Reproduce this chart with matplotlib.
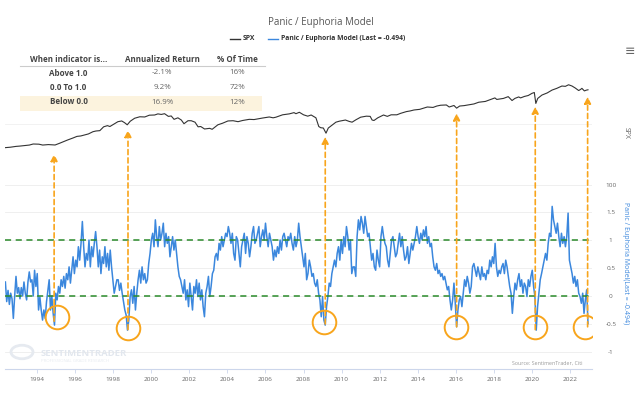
import numpy as np
import matplotlib
matplotlib.use('Agg')
import matplotlib.pyplot as plt
from matplotlib.patches import Rectangle

plt.rcParams['font.family'] = ['Open Sans', 'DejaVu Sans']

# DATA
# panic / euphoria model, evenly spaced samples from mid 1992 to end of 2022
panic_start, panic_end = 1992.34, 2022.94
panic = [
    0.25, -0.10, 0.10, -0.15, 0.05, -0.05, -0.40, 0.00, 0.35, 0.05, 0.15, -0.05, 0.15, 0.00, 0.25, 0.05, -0.07,
    0.25, 0.43, 0.25, 0.29, 0.00, 0.46, 0.17, 0.40, -0.25, -0.02, -0.25, -0.43, -0.25, -0.40, -0.10, 0.10,
    0.29, -0.25, 0.00, -0.31, -0.52, 0.05, -0.07, 0.17, 0.05, 0.29, 0.17, 0.35, 0.14, 0.40, 0.29, 0.52, 0.23,
    0.46, 0.70, 0.40, 0.64, 0.52, 0.88, 0.64, 0.94, 1.33, 0.88, 0.52, 0.76, 0.64, 1.00, 0.52, 0.88, 0.70,
    0.94, 1.15, 0.88, 0.52, 0.82, 0.40, 0.70, 0.58, 0.88, 0.52, 0.76, 0.46, 0.82, 0.52, 0.29, 0.05, 0.17, 0.29,
    # 1998
    0.29, 0.10, 0.23, 0.05, -0.10, -0.25, -0.34, -0.61, -0.43, -0.01, 0.11, -0.13, 0.17, -0.25, 0.05, 0.29,
    0.46, 0.23, 0.52, 0.29, 0.40, 0.23, 0.29, 0.58, 0.76, 1.00, 1.12, 0.88, 1.36, 1.06, 0.88, 1.24, 1.00,
    1.12, 1.30, 0.88, 1.12, 0.94, 1.06, 0.70, 0.88, 1.06, 0.82, 1.00, 0.76, 0.52, 0.35, 0.29, 0.17, 0.05,
    0.29, -0.07, 0.11, -0.19, 0.23, -0.01, -0.25, 0.17, 0.05, 0.29, -0.01, 0.23, -0.07, 0.11, -0.19, -0.37,
    0.05, 0.17, 0.35, -0.01, 0.17, 0.40, 0.46, 0.70, 0.76, 0.64, 0.94, 0.82, 1.06, 0.88, 1.00, 1.12, 1.06,
    1.24, 1.12, 0.94, 1.12, 0.76, 0.64,
    # 2004
    1.06, 1.00, 0.76, 0.52, 0.88, 1.00, 1.12, 0.76, 1.06, 0.94, 0.70, 0.88, 1.12, 1.24, 0.94, 1.00, 1.12,
    1.24, 0.88, 1.06, 1.18, 1.00, 1.30, 1.06, 0.88, 1.12, 1.00, 0.88, 0.64, 0.82, 0.70, 0.88, 0.76, 1.00,
    0.82, 1.06, 1.12, 1.00, 0.88, 1.06, 1.00, 1.12, 0.94, 0.82, 1.06, 0.88, 1.00, 1.30, 1.06, 0.88, 0.70,
    0.52, 0.76, 0.29, 0.40, 0.64, 0.52, 0.35, 0.40, 0.23, 0.17, 0.29, 0.05, -0.07, -0.37, -0.01, -0.43,
    -0.52, -0.19, -0.01, 0.23, 0.17, 0.40, 0.52, 0.64, 0.52, 0.76, 0.88, 0.64, 1.00, 0.76, 1.06, 0.88, 1.24,
    1.06, 0.82, 1.00, 0.40, 0.52,
    # 2010
    0.52, 0.35, 1.06, 1.36, 1.18, 1.42, 1.30, 1.12, 1.42, 1.24, 1.06, 1.12, 0.88, 0.64, 0.76, 0.52, 0.46,
    0.82, 0.64, 0.52, 1.06, 1.24, 1.06, 0.94, 0.88, 0.64, 0.52, 0.76, 1.00, 1.06, 0.88, 0.70, 0.76, 0.94,
    1.12, 0.88, 1.06, 0.82, 0.64, 0.70, 0.88, 0.58, 0.76, 0.94, 0.82, 0.94, 1.06, 1.24, 1.06, 0.94, 1.12,
    1.00, 1.18, 1.06, 1.24, 0.94, 1.06, 0.88, 0.94, 0.70, 0.52, 0.46, 0.58, 0.40, 0.46, 0.35, 0.40, 0.29,
    0.35, 0.23, 0.11, 0.17, -0.07, -0.25, -0.07, 0.23, -0.13, -0.55, -0.25, -0.07, -0.01, -0.19, 0.05, 0.29,
    0.17, 0.35, 0.23, 0.05, 0.17,
    # 2016
    0.52, 0.58, 0.46, 0.35, 0.52, 0.40, 0.29, 0.52, 0.35, 0.40, 0.29, 0.46, 0.40, 0.64, 0.52, 0.70, 0.58,
    0.94, 0.52, 0.35, 0.46, 0.40, 0.52, 0.58, 0.40, 0.64, 0.52, 0.35, 0.17, 0.05, -0.31, -0.01, 0.23, 0.11,
    0.29, 0.40, 0.17, 0.29, 0.05, 0.23, 0.17, -0.01, 0.29, 0.17, 0.35, 0.46, 0.17, -0.01, -0.61, -0.19,
    0.05, 0.29, 0.40, 0.52, 0.64, 0.76, 0.64, 0.94, 1.12, 1.06, 1.60, 1.36, 1.24, 1.12, 1.30, 1.06, 0.88,
    1.12, 0.94, 1.06, 0.88, 1.06, 1.48, 0.64, 0.52, 0.40, 0.23, 0.35, 0.17, 0.29, 0.05, -0.01, -0.13, 0.05,
    -0.31, -0.07, 0.11, -0.494,
]

spx_years = [
    1992.32, 1992.6, 1992.9, 1993.1, 1993.4, 1993.6, 1993.8, 1994.1, 1994.3, 1994.6, 1994.8, 1994.95,
    1995.2, 1995.4, 1995.6, 1995.9, 1996.1, 1996.3, 1996.5, 1996.7, 1996.94, 1997.1, 1997.3, 1997.5,
    1997.7, 1997.83, 1998.0, 1998.25, 1998.45, 1998.6, 1998.74, 1998.9, 1999.13, 1999.4, 1999.66, 1999.9,
    2000.18, 2000.35, 2000.53, 2000.7, 2000.9, 2001.05, 2001.2, 2001.4, 2001.58, 2001.72, 2001.93, 2002.1,
    2002.3, 2002.46, 2002.6, 2002.8, 2003.07, 2003.2, 2003.5, 2003.75, 2004.03, 2004.3, 2004.56, 2004.8,
    2005.15, 2005.4, 2005.85, 2006.2, 2006.4, 2006.55, 2006.9, 2007.25, 2007.5, 2007.6, 2007.78, 2008.0,
    2008.22, 2008.4, 2008.65, 2008.8, 2008.9, 2009.04, 2009.18, 2009.3, 2009.44, 2009.7, 2009.88, 2010.2,
    2010.4, 2010.55, 2010.75, 2011.0, 2011.3, 2011.5, 2011.6, 2011.7, 2011.9, 2012.2, 2012.4, 2012.6,
    2012.9, 2013.1, 2013.4, 2013.6, 2013.8, 2014.1, 2014.3, 2014.5, 2014.8, 2015.0, 2015.2, 2015.5,
    2015.65, 2015.9, 2016.04, 2016.2, 2016.43, 2016.7, 2016.95, 2017.2, 2017.55, 2017.9, 2018.05, 2018.15,
    2018.5, 2018.75, 2018.95, 2019.1, 2019.3, 2019.4, 2019.6, 2019.8, 2020.0, 2020.12, 2020.2, 2020.3,
    2020.52, 2020.8, 2021.05, 2021.3, 2021.57, 2021.75, 2021.92, 2022.1, 2022.27, 2022.45, 2022.55, 2022.62,
    2022.75, 2022.85, 2022.94,
]
spx = [
    405, 412, 425, 430, 440, 447, 465, 462, 447, 455, 452, 448,
    480, 510, 540, 585, 620, 630, 655, 680, 740, 760, 770, 890,
    930, 900, 970, 1080, 1110, 1040, 960, 1100, 1230, 1300, 1290, 1380,
    1390, 1450, 1420, 1460, 1320, 1340, 1180, 1250, 1150, 1000, 1120, 1120,
    1060, 890, 900, 820, 840, 810, 960, 1020, 1110, 1120, 1080, 1130,
    1180, 1170, 1240, 1290, 1250, 1280, 1400, 1450, 1520, 1460, 1540, 1400,
    1330, 1390, 1250, 900, 860, 850, 700, 850, 920, 1060, 1100, 1150,
    1090, 1060, 1160, 1280, 1330, 1320, 1150, 1130, 1250, 1390, 1320, 1400,
    1400, 1480, 1580, 1620, 1680, 1720, 1800, 1880, 1850, 1950, 2010, 2030,
    1880, 1990, 1800, 1950, 1980, 2050, 2110, 2250, 2320, 2550, 2650, 2500,
    2600, 2780, 2400, 2600, 2750, 2650, 2800, 2900, 3150, 3250, 2150, 2600,
    2950, 3200, 3560, 3800, 4150, 4100, 4350, 4150, 3850, 3500, 3650, 3800,
    3450, 3550, 3600,
]

upper_band, lower_band = 1.0, 0.0

signal_years = [1994.9, 1998.78, 2009.14, 2016.04, 2020.17, 2022.92]
signal_lows = [-0.45, -0.6, -0.5, -0.55, -0.6, -0.55]
signal_spx = [318, 788, 612, 1480, 1907, 2770]
circle_years = [1995.03, 1998.78, 2009.09, 2015.99, 2020.17, 2022.8]
circle_levels = [-0.38, -0.57, -0.46, -0.55, -0.56, -0.55]

table_headers = ['When indicator is...', 'Annualized Return', '% Of Time']
table_rows = ['Above 1.0', '0.0 To 1.0', 'Below 0.0']
table_returns = ['-2.1%', '9.2%', '16.9%']
table_time = ['16%', '72%', '12%']

year_ticks = list(range(1994, 2023, 2))
panic_ticks = [-1, -0.5, 0, 0.5, 1, 1.5]

# PLOTTING
W, H = 640, 393
fig = plt.figure(figsize=(6.4, 3.93), dpi=100)
fig.patch.set_facecolor('white')

ax = fig.add_axes([5 / W, 24 / H, 587 / W, 309 / H])
ax.set_facecolor('none')
years = np.linspace(panic_start, panic_end, len(panic))

ax.plot(years, panic, color='#3b87dd', lw=1.1, zorder=3)
ax.axhline(upper_band, color='#2a8a2a', lw=1.1, ls=(0, (4, 3)), zorder=4)
ax.axhline(lower_band, color='#2a8a2a', lw=1.1, ls=(0, (4, 3)), zorder=4)

ax.set_xlim(1992.32, 2023.15)
ax.set_ylim(-1.3036, 4.214)
ax.grid(axis='y', color='#ececec', lw=0.6, zorder=0)
ax.set_xticks(year_ticks)
ax.tick_params(axis='x', length=3, width=0.6, color='#ccd6eb', pad=2.5, labelsize=4.6, labelcolor='#666666')
for s in ['top', 'left', 'right']:
    ax.spines[s].set_visible(False)
ax.spines['bottom'].set_color('#ccd6eb')
ax.spines['bottom'].set_linewidth(0.8)

ax2 = ax.twinx()
ax2.set_yscale('log')
ax2.plot(spx_years, spx, color='#333333', lw=0.8, zorder=3)
ax2.set_ylim(0.0953, 11082)
ax2.set_yticks([100])
ax2.set_yticklabels(['100'])
ax2.yaxis.set_minor_locator(matplotlib.ticker.NullLocator())
ax2.tick_params(axis='y', length=0, pad=13.5, labelsize=4.6, labelcolor='#666666')
for lab in ax2.get_yticklabels():
    lab.set_horizontalalignment('center')
ax2.axhline(100, color='#ececec', lw=0.6, zorder=0)
ax2.axhline(1000, color='#f0f0f0', lw=0.6, zorder=0)
for s in ax2.spines.values():
    s.set_visible(False)

# panic ticks on the right (after twinx, which moves them left)
ax.yaxis.tick_right()
ax.set_yticks(panic_ticks)
ax.set_yticklabels(['-1', '-0.5', '0', '0.5', '1', '1.5'])
ax.tick_params(axis='y', which='both', left=False, right=True, labelleft=False, labelright=True,
               length=0, pad=13.5, labelsize=4.6, labelcolor='#666666')
for lab in ax.get_yticklabels():
    lab.set_horizontalalignment('center')

# signal arrows and circles
orange = '#f8a51c'
for yr, low, tip in zip(signal_years, signal_lows, signal_spx):
    ax2.annotate('', xy=(yr, tip), xycoords='data', xytext=(yr, low), textcoords=ax.transData,
                 arrowprops=dict(arrowstyle='-|>', color=orange, lw=1.2, ls=(0, (3, 2)),
                                 mutation_scale=10, shrinkA=0, shrinkB=0), zorder=5)
ax2.plot(circle_years, circle_levels, 'o', ms=17, mfc='none', mec=orange, mew=1.4,
         transform=ax.transData, zorder=6)

# title and legend
fig.text(321 / W, 1 - 23 / H, 'Panic / Euphoria Model', ha='center', va='center', fontsize=7.0, color='#555555')
fig.add_artist(plt.Line2D([230 / W, 240 / W], [1 - 39 / H] * 2, color='#333333', lw=1))
fig.text(243 / W, 1 - 39 / H, 'SPX', ha='left', va='center', fontsize=4.9, color='#333333', weight='bold')
fig.add_artist(plt.Line2D([268 / W, 278 / W], [1 - 39 / H] * 2, color='#3b87dd', lw=1))
fig.text(281 / W, 1 - 39 / H, 'Panic / Euphoria Model (Last = -0.494)', ha='left', va='center',
         fontsize=4.9, color='#333333', weight='bold')
fig.text(630 / W, 1 - 52 / H, '≡', ha='center', va='center', fontsize=9, color='#666666')

# axis titles on the right
fig.text(626 / W, 1 - 133 / H, 'SPX', rotation=270, ha='center', va='center', fontsize=5, color='#666666')
fig.text(626 / W, 1 - 263 / H, 'Panic / Euphoria Model(Last = -0.494)', rotation=270, ha='center',
         va='center', fontsize=5, color='#3b87dd')

# summary table
fig.add_artist(Rectangle((20 / W, 1 - 110.7 / H), 242 / W, 15 / H, transform=fig.transFigure,
                         facecolor='#fcf3de', edgecolor='none', zorder=0))
fig.add_artist(plt.Line2D([20 / W, 265 / W], [1 - 66 / H] * 2, color='#cccccc', lw=0.8))
col_x = [68.5, 162, 237.5]
for cx, head in zip(col_x, table_headers):
    fig.text(cx / W, 1 - 59 / H, head, ha='center', va='center', fontsize=5.8, color='#444444', weight='bold')
for i, (row, ret, pct) in enumerate(zip(table_rows, table_returns, table_time)):
    y = 1 - (73 + 14.5 * i) / H
    fig.text(col_x[0] / W, y, row, ha='center', va='center', fontsize=5.8, color='#444444', weight='bold')
    fig.text(col_x[1] / W, y, ret, ha='center', va='center', fontsize=5.8, color='#666666')
    fig.text(col_x[2] / W, y, pct, ha='center', va='center', fontsize=5.8, color='#666666')

# watermark and source
fig.text(41 / W, 1 - 353 / H, 'SENTIMENTRADER', ha='left', va='center', fontsize=6.8, color='#e2e7ee',
         weight='bold')
fig.text(41 / W, 1 - 361 / H, 'PROFESSIONAL GRADE RESEARCH', ha='left', va='center', fontsize=3.2,
         color='#e8ecf1')
fig.add_artist(plt.Circle((22 / W, 1 - 352 / H), 11 / W, transform=fig.transFigure, fill=False,
                          ec='#e6eaf0', lw=2))
fig.text(583 / W, 1 - 363 / H, 'Source: SentimenTrader, Citi', ha='right', va='center', fontsize=3.8,
         color='#999999')

fig.savefig('out.png', dpi=100)
